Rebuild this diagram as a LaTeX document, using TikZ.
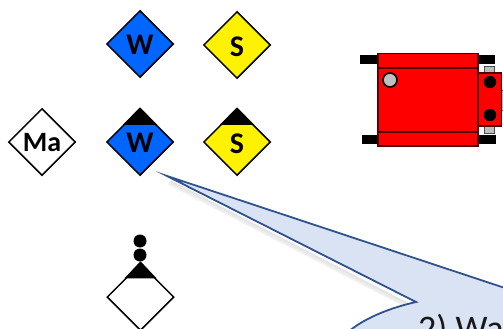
\documentclass[tikz,border=0pt]{standalone}
\usepackage{fontspec}
\usetikzlibrary{shapes.geometric}
\setmainfont{Carlito}
\definecolor{wblue}{RGB}{0,102,255}
\definecolor{callfill}{RGB}{218,227,243}
\definecolor{callline}{RGB}{47,82,143}
\begin{document}
\begin{tikzpicture}[x=1pt,y=-1pt,
  lett/.style={font=\bfseries\fontsize{30}{30}\selectfont,inner sep=0pt},
  dia/.style={draw=black,line width=1.5pt,fill=#1,shape=diamond,aspect=1,minimum size=67pt,inner sep=0pt},
  dot/.style={circle,fill=black,minimum size=13pt,inner sep=0pt},
  trk/.style={fill=black,draw=none},
  bodyp/.style={draw=black!70!red,line width=1.2pt,fill=red},
  pin/.style={draw=black!70,line width=.8pt,fill=black!25},
  hat/.style={fill=black,draw=none},
  call/.style={draw=callline,line width=1.8pt,fill=callfill,line join=miter,miter limit=20}]
\useasboundingbox (0,0) rectangle (503,329);
\clip (0,0) rectangle (503,329);
% diamonds
\node[dia=wblue] (w1) at (140,44) {};
\node[dia=yellow] (s1) at (237,45) {};
\node[dia=white] (ma) at (42,142) {};
\node[dia=wblue] (w2) at (140,142) {};
\node[dia=yellow] (s2) at (237,142) {};
\node[dia=white] (d) at (140.5,297) {};
% black caps
\fill[hat] (w2.north) ++(0,-.5) -- ++(17,17.5) -- ++(-34,0) -- cycle;
\fill[hat] (s2.north) ++(0,-.5) -- ++(17,17.5) -- ++(-34,0) -- cycle;
\fill[hat] (d.north) ++(0,-1.5) -- ++(16,17) -- ++(-32,0) -- cycle;
\node[lett] (w1t) at (140,45) {W};
\node[lett] (s1t) at (237,47) {S};
\node[lett,font=\bfseries\fontsize{28}{28}\selectfont] (mat) at (42,143) {Ma};
\node[lett] (w2t) at (140,143) {W};
\node[lett] (s2t) at (237,144) {S};
\node[dot] (d1) at (140,241) {};
\node[dot] (d2) at (140,255) {};
% robot
\fill[trk] (360,55) rectangle (380,64);
\fill[trk] (478,55) rectangle (495,64);
\fill[trk] (362,135) rectangle (380,144);
\fill[trk] (478,135) rectangle (496,144);
\draw[pin] (484.5,66.5) rectangle (494.5,73);
\draw[pin] (484.5,126) rectangle (494.5,133);
\draw[pin] (501.5,90) rectangle (506,110);
\draw[bodyp] (378,53.5) rectangle (478,146);
\draw[bodyp] (378,68) -- (478,68);
\draw[bodyp] (378,132) -- (478,132);
\draw[bodyp] (478,73) rectangle (501.5,126);
\node[circle,draw=black,line width=1.6pt,fill=black!25,minimum size=14pt,inner sep=0pt] (pivot) at (390,80) {};
\node[dot,minimum size=12.5pt] (b1) at (490,82) {};
\node[dot,minimum size=12.5pt] (b2) at (490,115) {};
% callout shadow
\foreach \o/\a in {4/.04,3/.06,2/.08,1/.09}{
  \draw[black,opacity=\a,line width=1.5pt,xshift={-\o pt},yshift={-\o pt}] (172,180) -- (410,303);
}
% callout
\path[call] (167,176) -- (520,293) -- (520,340) -- (340,340)
  .. controls (355,322) and (385,309) .. (416,302) -- cycle;
\node[anchor=base west,inner sep=0pt,font=\fontsize{36}{36}\selectfont,text=black!90] (lab) at (418,340) {2) Wa};
\end{tikzpicture}
\end{document}
